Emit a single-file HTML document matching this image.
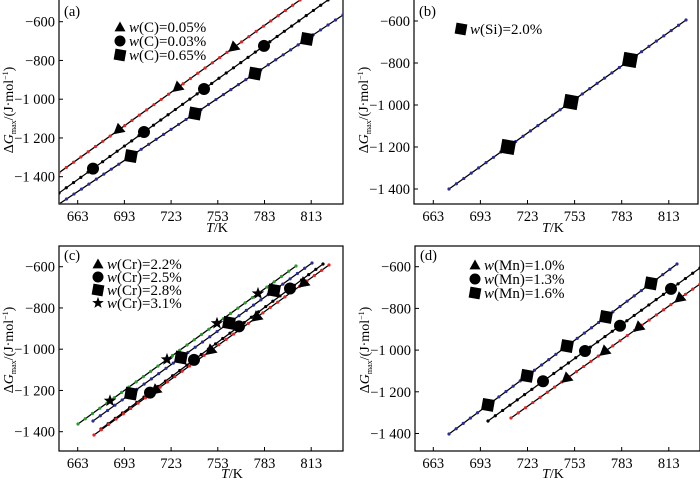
<!DOCTYPE html>
<html><head><meta charset="utf-8"><style>
html,body{margin:0;padding:0;background:#fff;}
svg{display:block;font-family:"Liberation Serif",serif;}
</style></head><body>
<svg id="s" width="700" height="480" xmlns="http://www.w3.org/2000/svg"></svg>
<script>
const s=document.getElementById('s');let h='';
function panel(P){
 const {L,R,T,B,x0,xs,yref,ys,xl,yl,tag,lo}=P;
 h+=`<rect x="${L}" y="${T}" width="${R-L}" height="${B-T}" fill="none" stroke="#000" stroke-width="1.2"/>`;
 [663,693,723,753,783,813].forEach((v,i)=>{const x=x0+i*xs;h+=`<line x1="${x}" y1="${B}" x2="${x}" y2="${B-4}" stroke="#000"/><text x="${x}" y="${B+17}" font-size="14.5" text-anchor="middle">${v}</text>`;});
 ['−600','−800','−1 000','−1 200','−1 400'].forEach((t,i)=>{const y=yref+i*ys;h+=`<line x1="${L}" y1="${y}" x2="${L+4}" y2="${y}" stroke="#000"/><text x="${L-4}" y="${y+5}" font-size="14.5" text-anchor="end">${t}</text>`;});
 h+=`<text x="${xl}" y="${B+lo}" font-size="14" text-anchor="middle"><tspan font-style="italic">T</tspan>/K</text>`;
 h+=`<text transform="translate(${L-46},${yl}) rotate(-90)" font-size="14" text-anchor="middle">Δ<tspan font-style="italic">G</tspan><tspan font-size="8" dy="3">max</tspan><tspan dy="-3">/(J·mol</tspan><tspan font-size="8" dy="-5">−1</tspan><tspan dy="5">)</tspan></text>`;
 h+=`<text x="${L+5}" y="${T+(tag[1]||14)}" font-size="14.5">${tag[0]}</text>`;
}
function line(a,b,c,clip){
 h+=`<line x1="${a[0]}" y1="${a[1]}" x2="${b[0]}" y2="${b[1]}" stroke="#000" stroke-width="1.3" ${clip}/>`;
 const n=Math.round(Math.hypot(b[0]-a[0],b[1]-a[1])/9);
 for(let i=0;i<=n;i++){const x=a[0]+(b[0]-a[0])*i/n,y=a[1]+(b[1]-a[1])*i/n;h+=`<circle cx="${x}" cy="${y}" r="1.6" fill="${c}" ${clip}/>`;}
}
function mk(t,x,y,r){
 r=r||6;
 if(t=='c')h+=`<circle cx="${x}" cy="${y}" r="${r}" fill="#000"/>`;
 else if(t=='s')h+=`<rect x="${x-r}" y="${y-r}" width="${2*r}" height="${2*r}" fill="#000" transform="rotate(10 ${x} ${y})"/>`;
 else if(t=='t')h+=`<polygon points="${x},${y-r} ${x+r},${y+r*0.8} ${x-r},${y+r*0.8}" fill="#000"/>`;
 else if(t=='T')h+=`<polygon points="${x},${y-r} ${x+r},${y+r*0.8} ${x-r},${y+r*0.8}" fill="#000" transform="rotate(-130 ${x} ${y})"/>`;
 else if(t=='*'){let p=[];for(let i=0;i<10;i++){const a=-Math.PI/2+i*Math.PI/5,rr=i%2?r*0.45:r*1.1;p.push((x+rr*Math.cos(a)).toFixed(1)+','+(y+rr*Math.sin(a)).toFixed(1));}h+=`<polygon points="${p.join(' ')}" fill="#000"/>`;}
}
function on(t,a,b,xs,r){xs.forEach(x=>{const y=a[1]+(b[1]-a[1])*(x-a[0])/(b[0]-a[0]);mk(t,x,y,r);});}
function leg(t,x,y,txt,r){mk(t,x,y,r||5.5);h+=`<text x="${x+9}" y="${y+5}" font-size="15"><tspan font-style="italic">w</tspan>${txt}</text>`;}
h+=`<defs><clipPath id="ca"><rect x="59" y="0" width="284" height="204"/></clipPath><clipPath id="cd"><rect x="415" y="246" width="285" height="205"/></clipPath></defs>`;
// (a)
panel({L:59,R:343,T:-1,B:204,x0:77.7,xs:46.7,yref:21.7,ys:38.75,xl:217,yl:110,tag:['(a)',17],lo:28});
const ca='clip-path="url(#ca)"';
let aR=[[59,172.7],[300,0]],aK=[[59,193],[328,0]],aB=[[59,204],[343,15]];
line(...aR,'#e52222',ca);line(...aK,'#000',ca);line(...aB,'#2b2b9a',ca);
on('T',...aR,[118,177,233]);on('c',...aK,[93,144,204,264]);on('s',...aB,[131,195,255,307]);
leg('t',120,27,'(C)=0.05%');leg('c',120,41,'(C)=0.03%');leg('s',120,55,'(C)=0.65%');
// (b)
panel({L:414,R:698,T:-1,B:204,x0:433.3,xs:47.1,yref:21,ys:42,xl:553,yl:110,tag:['(b)',17],lo:28});
let bB=[[449,189],[686,20]];
line(...bB,'#2b2b9a','');
on('s',...bB,[508,571,630],7);
leg('s',461,29,'(Si)=2.0%',5.5);
// (c)
panel({L:59,R:343,T:246,B:451,x0:77.7,xs:46.7,yref:266.7,ys:41.25,xl:232,yl:350,tag:['(c)',14],lo:27});
let cG=[[78,424],[296,266]],cB=[[93,421],[312,263]],cK=[[101,429],[323,264]],cR=[[94,435],[329,265]];
line(...cG,'#2a9a2a','');line(...cB,'#2b2b9a','');line(...cK,'#000','');line(...cR,'#e52222','');
on('*',...cG,[110,167,217,258]);on('s',...cB,[131,181,229,274]);on('c',...cK,[150,194,239,290]);on('T',...cR,[155,210,256,303]);
leg('t',98,264,'(Cr)=2.2%');leg('c',98,277,'(Cr)=2.5%');leg('s',98,290,'(Cr)=2.8%');leg('*',98,303,'(Cr)=3.1%');
// (d)
panel({L:415,R:700,T:246,B:451,x0:433.3,xs:47.1,yref:266.7,ys:41.7,xl:553,yl:350,tag:['(d)',14],lo:27});
const cd='clip-path="url(#cd)"';
let dB=[[449,434],[677,264]],dK=[[488,421],[700,268]],dR=[[511,418],[700,284]];
line(...dB,'#2b2b9a',cd);line(...dK,'#000',cd);line(...dR,'#e52222',cd);
on('s',...dB,[488,527,567,606,651]);on('c',...dK,[543,585,620,671]);on('T',...dR,[566,604,638,679]);
leg('t',475,265,'(Mn)=1.0%');leg('c',475,279,'(Mn)=1.3%');leg('s',475,293,'(Mn)=1.6%');
s.innerHTML=h;
</script>
</body></html>
